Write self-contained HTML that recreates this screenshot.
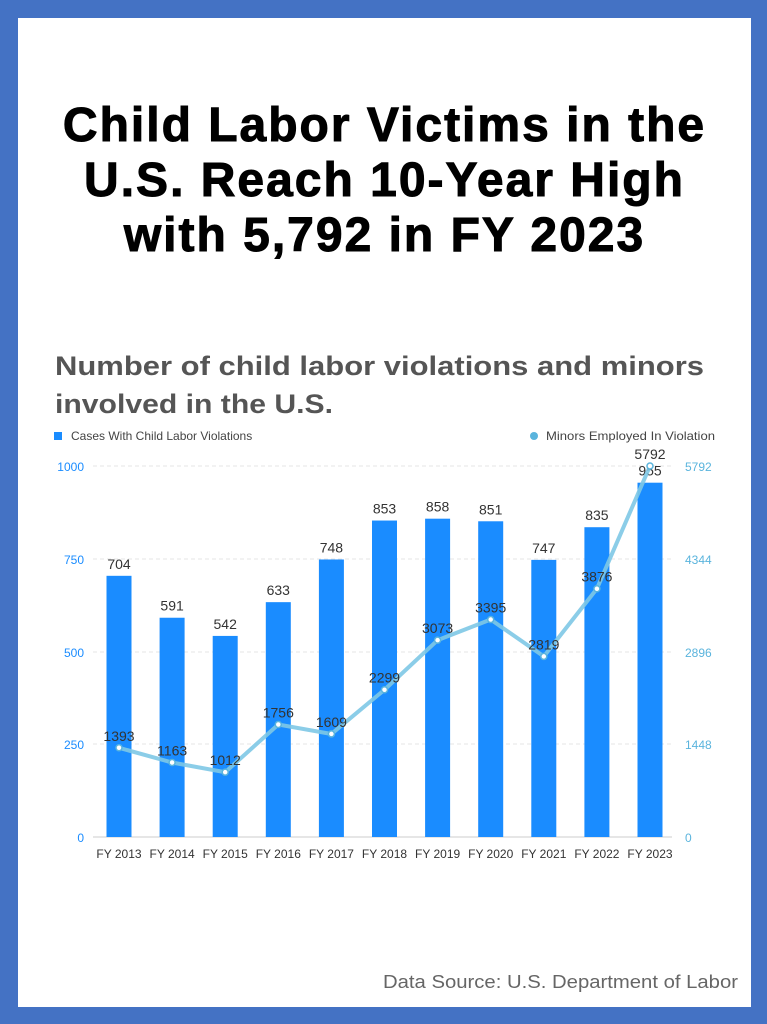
<!DOCTYPE html>
<html><head><meta charset="utf-8"><style>
body{margin:0;width:767px;height:1024px;background:#4472C4;font-family:"Liberation Sans",sans-serif;}
.panel{position:absolute;left:18px;top:18px;width:733px;height:989px;background:#fff;}
h1{position:absolute;left:18px;top:98px;width:733px;margin:0;text-align:center;font-size:48px;letter-spacing:2px;line-height:55px;font-weight:bold;color:#000;-webkit-text-stroke:1px #000;}
</style></head><body>
<div class="panel"></div>
<h1>Child Labor Victims in the<br>U.S. Reach 10-Year High<br>with 5,792 in FY 2023</h1>
<svg width="767" height="1024" style="position:absolute;left:0;top:0" font-family="Liberation Sans, DejaVu Sans, sans-serif">
<text x="55" y="375" font-size="27" font-weight="bold" fill="#555" textLength="649" lengthAdjust="spacingAndGlyphs">Number of child labor violations and minors</text>
<text x="55" y="413" font-size="27" font-weight="bold" fill="#555" textLength="278" lengthAdjust="spacingAndGlyphs">involved in the U.S.</text>
<rect x="54" y="432" width="8" height="8" fill="#1a8cff"/>
<text x="71" y="440" font-size="12" fill="#444">Cases With Child Labor Violations</text>
<circle cx="534" cy="436" r="4" fill="#5ab4dd"/>
<text x="546" y="440" font-size="12" fill="#444" textLength="169" lengthAdjust="spacingAndGlyphs">Minors Employed In Violation</text>
<g stroke="#e6e6e6" stroke-dasharray="4,3">
<line x1="93" y1="466" x2="672" y2="466"/><line x1="93" y1="559" x2="672" y2="559"/>
<line x1="93" y1="652" x2="672" y2="652"/><line x1="93" y1="744" x2="672" y2="744"/>
</g>
<line x1="93" y1="837" x2="672" y2="837" stroke="#ccc"/>
<g font-size="12" fill="#1a8cff" text-anchor="end">
<text x="84" y="471">1000</text><text x="84" y="564">750</text><text x="84" y="657">500</text><text x="84" y="749">250</text><text x="84" y="842">0</text>
</g>
<g font-size="12" fill="#5ab4dd">
<text x="685" y="471">5792</text><text x="685" y="564">4344</text><text x="685" y="657">2896</text><text x="685" y="749">1448</text><text x="685" y="842">0</text>
</g>
<g fill="#1a8cff" id="bars"></g>
<g font-size="14" fill="#333" text-anchor="middle" id="blab"></g>
<g font-size="12" fill="#333" text-anchor="middle" id="xl"></g>
<polyline id="ln" fill="none" stroke="#7ec8e6" stroke-width="4" stroke-opacity="0.9"/>
<g id="pts"></g>
<text x="738" y="988" font-size="18" fill="#666" text-anchor="end" textLength="355" lengthAdjust="spacingAndGlyphs">Data Source: U.S. Department of Labor</text>
</svg>
<script>
var c=[704,591,542,633,748,853,858,851,747,835,955],m=[1393,1163,1012,1756,1609,2299,3073,3395,2819,3876,5792];
var ns="http://www.w3.org/2000/svg",b=document.getElementById('bars'),bl=document.getElementById('blab'),xl=document.getElementById('xl'),pt=document.getElementById('pts'),p=[];
function el(t,a,par,tx){var e=document.createElementNS(ns,t);for(var k in a)e.setAttribute(k,a[k]);if(tx!=null)e.textContent=tx;par.appendChild(e);return e;}
for(var i=0;i<11;i++){var x=119+i*53.1,h=c[i]*0.371,y=837-h;
el('rect',{x:x-12.5,y:y,width:25,height:h},b);
el('text',{x:x,y:y-7},bl,c[i]);
el('text',{x:x,y:858},xl,'FY '+(2013+i));
var ly=837-m[i]/5792*371;p.push(x+','+ly);}
document.getElementById('ln').setAttribute('points',p.join(' '));
for(var i=0;i<11;i++){var x=119+i*53.1,ly=837-m[i]/5792*371;
el('circle',{cx:x,cy:ly,r:3,fill:'#fff',stroke:'#5ab4dd','stroke-width':1.5},pt);
el('text',{x:x,y:ly-7,'font-size':14,fill:'#333','text-anchor':'middle'},pt,m[i]);}
</script>
</body></html>
